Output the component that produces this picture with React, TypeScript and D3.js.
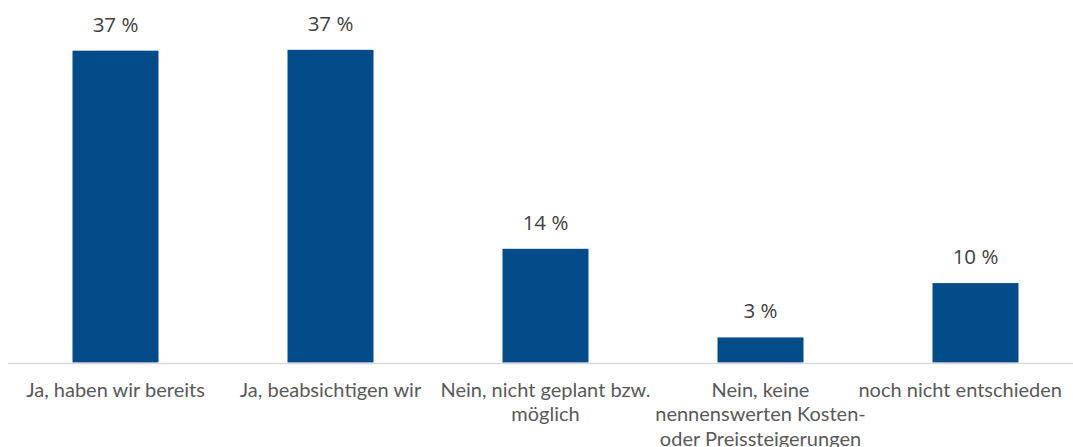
import React, { useEffect, useRef } from 'react';
import * as d3 from 'd3';

const categories = [
  ['Ja, haben wir bereits'],
  ['Ja, beabsichtigen wir'],
  ['Nein, nicht geplant bzw.', 'möglich'],
  ['Nein, keine', 'nennenswerten Kosten-', 'oder Preissteigerungen'],
  ['noch nicht entschieden'],
];
const shares = [37.3, 37.4, 13.6, 3.0, 9.5];
const yDomainMax = 40;

const WIDTH = 1073;
const HEIGHT = 447;

const App: React.FC = () => {
  const svgRef = useRef<SVGSVGElement>(null);

  useEffect(() => {
    if (!svgRef.current) return;
    const svg = d3.select(svgRef.current);
    svg.selectAll('*').remove();

    const baseline = 362.5;
    const x = d3.scaleBand<number>()
      .domain(d3.range(shares.length))
      .range([8, 1083])
      .paddingInner(0.6)
      .paddingOuter(0.3);
    const y = d3.scaleLinear().domain([0, yDomainMax]).range([baseline, baseline - 8.36 * yDomainMax]);

    // bars
    svg.append('g')
      .selectAll('rect')
      .data(shares)
      .join('rect')
      .attr('x', (_, i) => x(i)!)
      .attr('y', d => y(d))
      .attr('width', x.bandwidth())
      .attr('height', d => y(0) - y(d))
      .attr('fill', '#044c89');

    // value labels
    svg.append('g')
      .selectAll('text')
      .data(shares)
      .join('text')
      .attr('x', (_, i) => x(i)! + x.bandwidth() / 2)
      .attr('y', d => y(d) - 19)
      .attr('text-anchor', 'middle')
      .attr('font-family', "'Open Sans', sans-serif")
      .attr('font-size', '20.5px')
      .attr('fill', '#404040')
      .text(d => `${Math.round(d)} %`);

    // baseline
    svg.append('line')
      .attr('x1', 8)
      .attr('x2', WIDTH)
      .attr('y1', baseline + 1)
      .attr('y2', baseline + 1)
      .attr('stroke', '#d9d9d9')
      .attr('stroke-width', 1.5);

    // category labels
    categories.forEach((lines, i) => {
      const t = svg.append('text')
        .attr('text-anchor', 'middle')
        .attr('font-family', "Lato, sans-serif")
        .attr('font-size', '20px')
        .attr('fill', '#595959');
      lines.forEach((ln, j) => {
        t.append('tspan')
          .attr('x', x(i)! + x.bandwidth() / 2)
          .attr('y', 397 + j * 24.3)
          .text(ln);
      });
      // keep label inside the picture
      const box = (t.node() as SVGTextElement).getBBox();
      const overflow = box.x + box.width - (WIDTH - 11);
      if (overflow > 0) {
        t.selectAll('tspan').attr('x', x(i)! + x.bandwidth() / 2 - overflow);
      }
    });
  }, []);

  return (
    <div style={{ position: 'absolute', left: 0, top: 0, width: WIDTH, height: HEIGHT, background: '#fff' }}>
      <svg ref={svgRef} width={WIDTH} height={HEIGHT} />
    </div>
  );
};

export default App;
